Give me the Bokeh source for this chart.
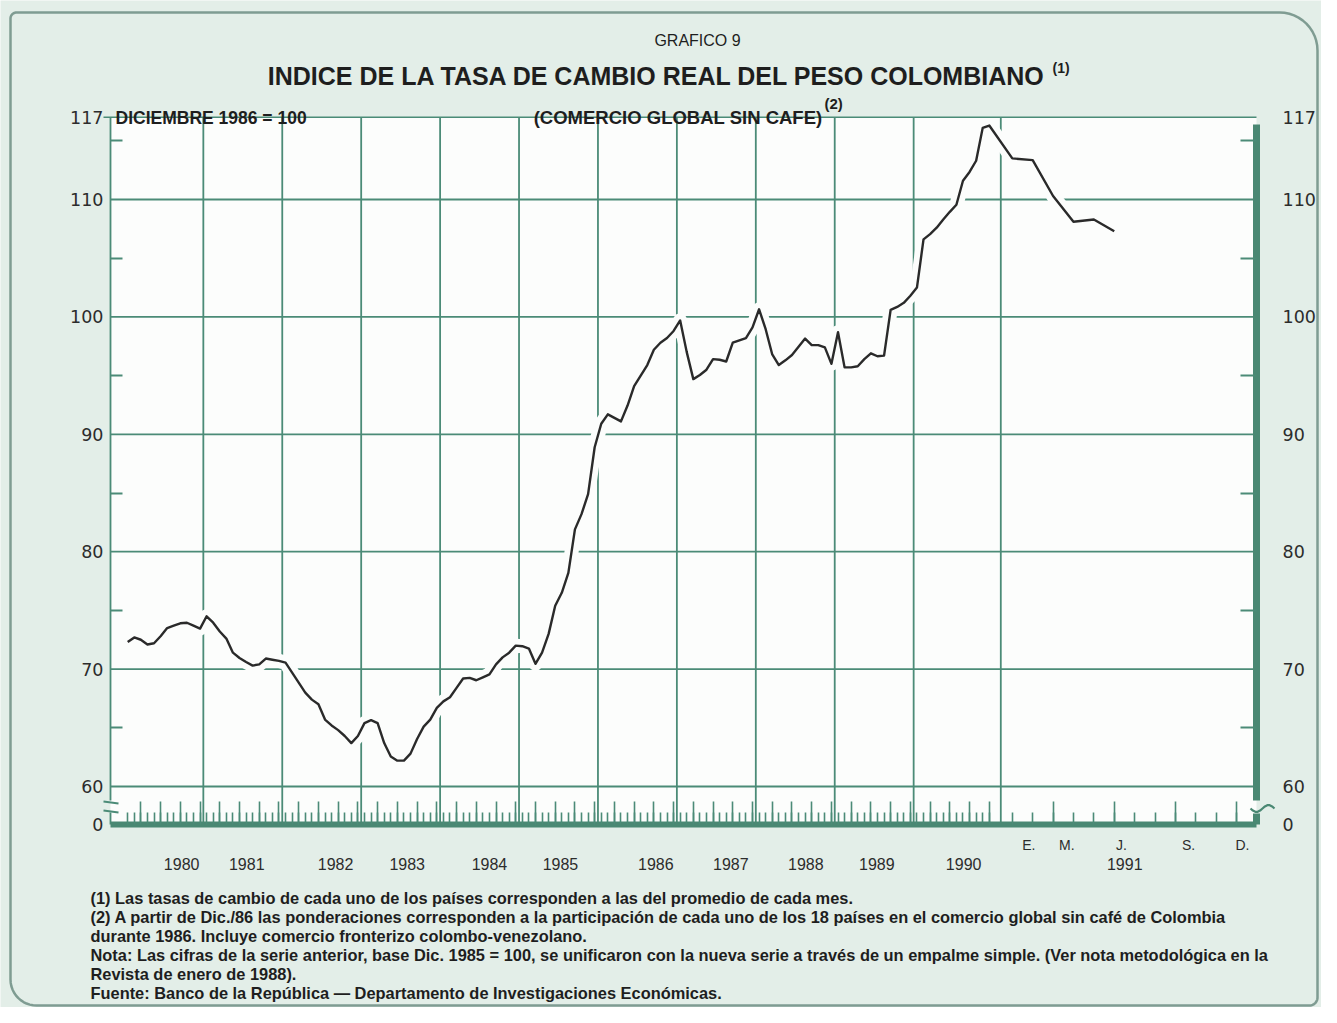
import math
from bokeh.plotting import figure
from bokeh.models import Range1d, LinearAxis, FixedTicker, CustomJSTickFormatter
from bokeh.core.properties import value
from bokeh.embed import file_html
from bokeh.resources import INLINE

# ---------------- data (monthly index, Dic. 1986 = 100) ----------------
idx_1980 = [72.3, 72.7, 72.5, 72.1, 72.2, 72.8, 73.5, 73.7, 73.9, 73.95, 73.7, 73.45]
idx_1981 = [74.5, 73.95, 73.2, 72.6, 71.4, 70.95, 70.6, 70.3, 70.4, 70.9, 70.8, 70.7]
idx_1982 = [70.55, 69.7, 68.85, 68.0, 67.4, 67.0, 65.7, 65.2, 64.8, 64.3, 63.7, 64.3]
idx_1983 = [65.4, 65.65, 65.4, 63.7, 62.55, 62.2, 62.2, 62.8, 64.05, 65.1, 65.7, 66.7]
idx_1984 = [67.25, 67.6, 68.4, 69.2, 69.25, 69.05, 69.3, 69.55, 70.4, 71.0, 71.4, 72.0]
idx_1985 = [71.95, 71.75, 70.45, 71.4, 73.0, 75.4, 76.5, 78.2, 81.9, 83.2, 84.9, 88.9]
idx_1986 = [90.9, 91.7, 91.4, 91.1, 92.45, 94.1, 95.0, 95.9, 97.2, 97.8, 98.2, 98.8]
idx_1987 = [99.7, 97.0, 94.7, 95.05, 95.5, 96.4, 96.35, 96.2, 97.8, 98.0, 98.2, 99.1]
idx_1988 = [100.65, 98.95, 96.8, 95.9, 96.3, 96.75, 97.45, 98.15, 97.6, 97.6, 97.4, 96.0]
idx_1989 = [98.7, 95.7, 95.7, 95.8, 96.4, 96.9, 96.65, 96.7, 100.6, 100.85, 101.2, 101.8]
idx_1990 = [102.5, 106.6, 107.05, 107.6, 108.3, 108.95, 109.55, 111.6, 112.35, 113.3, 116.1, 116.3]
idx_1991 = [113.5, 113.35, 110.3, 108.1, 108.3, 107.3]          # enero - junio 1991

series = [(1980, idx_1980), (1981, idx_1981), (1982, idx_1982), (1983, idx_1983),
          (1984, idx_1984), (1985, idx_1985), (1986, idx_1986), (1987, idx_1987),
          (1988, idx_1988), (1989, idx_1989), (1990, idx_1990), (1991, idx_1991)]

y_tick_values = [60, 70, 80, 90, 100, 110, 117]
y_minor_values = [65, 75, 85, 95, 105, 115]
year_labels = ["1980", "1981", "1982", "1983", "1984", "1985", "1986",
               "1987", "1988", "1989", "1990", "1991"]
month_labels_1991 = ["E.", "M.", "J.", "S.", "D."]

title_top = "GRAFICO 9"
title_main = "INDICE DE LA TASA DE CAMBIO REAL DEL PESO COLOMBIANO"
subtitle = "(COMERCIO GLOBAL SIN CAFE)"
base_note = "DICIEMBRE 1986 = 100"
footnotes = [
    "(1) Las tasas de cambio de cada uno de los países corresponden a las del promedio de cada mes.",
    "(2) A partir de Dic./86 las ponderaciones corresponden a la participación de cada uno de los 18 países en el comercio global sin café de Colombia",
    "durante 1986. Incluye comercio fronterizo colombo-venezolano.",
    "Nota: Las cifras de la serie anterior, base Dic. 1985 = 100, se unificaron con la nueva serie a través de un empalme simple. (Ver nota metodológica en la",
    "Revista de enero de 1988).",
    "Fuente: Banco de la República — Departamento de Investigaciones Económicas.",
]

# ---------------- scale of the time axis (1991 drawn with wider months) ----------------
def month_pos(year, month):
    if year <= 1990:
        return (year - 1980) * 12 + (month - 1)
    return 134.5 + 3.1 * (month - 1)

xs, ys = [], []
for yr, vals in series:
    for m, v in enumerate(vals, start=1):
        xs.append(month_pos(yr, m))
        ys.append(v)

all_months = [month_pos(y, m) for y in range(1980, 1992) for m in range(1, 13)]
quarter_months = [month_pos(y, m) for y in range(1980, 1992) for m in (3, 6, 9, 12)]
year_bounds = [month_pos(y, 12) + 0.5 for y in range(1980, 1990)]
year_bounds.append((month_pos(1990, 12) + month_pos(1991, 1)) / 2)

# ---------------- layout helpers (canvas pixel -> data) ----------------
W, H = 1321, 1007
PX0, PXS = 127.2, 6.577
PY60, PYS = 786.0, 11.74


def X(px):
    return (px - PX0) / PXS


def Y(py):
    return 60 + (PY60 - py) / PYS


L, R = X(110), X(1256)
TOP, BASE = 117, Y(824)
year_label_pos = [8.2, 18.1, 31.6, 42.5, 55.0, 65.8, 80.3, 91.7, 103.1, 113.9, 127.1, 151.6]
month_label_pos = [137.0, 142.8, 151.1, 161.3, 169.5]

GREEN = "#4b8b77"
GREEN_D = "#4a8873"
MINT = "#e3eee8"
INK = "#1e1e1e"
AXTXT = "#2c2c2c"
SANS = "Liberation Sans"

p = figure(width=W, height=H, x_range=Range1d(X(0), X(W)), y_range=Range1d(Y(H), Y(0)),
           x_axis_type=None, y_axis_type=None, toolbar_location=None, output_backend="svg",
           min_border=0, outline_line_color=None,
           background_fill_color=MINT, border_fill_color=MINT)

# rounded page border
def rounded(x0, y0, x1, y1, rtl, rtr, rbr, rbl, n=12):
    pts = []

    def arc(cx, cy, r, a0, a1):
        for k in range(n + 1):
            a = math.radians(a0 + (a1 - a0) * k / n)
            pts.append((cx + r * math.cos(a), cy + r * math.sin(a)))
    arc(x0 + rtl, y0 + rtl, rtl, 180, 270)
    arc(x1 - rtr, y0 + rtr, rtr, 270, 360)
    arc(x1 - rbr, y1 - rbr, rbr, 0, 90)
    arc(x0 + rbl, y1 - rbl, rbl, 90, 180)
    pts.append(pts[0])
    return [X(a) for a, b in pts], [Y(b) for a, b in pts]

bx, by = rounded(10, 12, 1317, 1005, 6, 38, 8, 26)
p.line(bx, by, line_color="#7f9c92", line_width=2.5)

# white plotting area
p.quad(left=[L], right=[R], bottom=[BASE], top=[TOP], fill_color="#fcfdfc", line_color=None)

# grid
hg = [60, 70, 80, 90, 100, 110]
p.segment(x0=[L] * len(hg), y0=hg, x1=[R] * len(hg), y1=hg, line_color=GREEN, line_width=1.8)
p.segment(x0=year_bounds, y0=[BASE] * len(year_bounds), x1=year_bounds, y1=[TOP] * len(year_bounds),
          line_color=GREEN, line_width=1.8)

# white halo under the series (the drafted grid is broken where the curve passes)
p.line(xs, ys, line_color="#fcfdfc", line_width=14, line_join="round")

# frame
p.segment(x0=[X(103)], y0=[TOP], x1=[R], y1=[TOP], line_color=GREEN, line_width=1.6)
p.segment(x0=[L, L], y0=[TOP, Y(812)], x1=[L, L], y1=[Y(800), BASE], line_color=GREEN, line_width=1.8)
p.segment(x0=[X(103), X(103)], y0=[Y(801), Y(810)], x1=[X(118), X(118)], y1=[Y(803), Y(812)],
          line_color=GREEN, line_width=1.8)
p.segment(x0=[R, R], y0=[Y(124), Y(813)], x1=[R, R], y1=[Y(800), BASE], line_color=GREEN_D, line_width=7)
wx = [X(1250 + k * 2.4) for k in range(11)]
wy = [Y(808 + 3.5 * math.sin(k * math.pi / 5)) for k in range(11)]
p.line(wx, wy, line_color=GREEN_D, line_width=2.2)

# the series
p.line(xs, ys, line_color="#2a2a2a", line_width=2.4, line_join="round")

# ---------------- axes ----------------
ytk = [BASE] + y_tick_values
ylab = {BASE: "0"}
for t in y_tick_values:
    ylab[t] = str(t)

for side, loc, tin, stand in (("left", L, 12, 7), ("right", R, 16, 26)):
    ax = LinearAxis(fixed_location=loc,
                    ticker=FixedTicker(ticks=ytk, minor_ticks=y_minor_values),
                    major_label_overrides=ylab, axis_line_color=None,
                    major_tick_in=0, major_tick_out=0,
                    minor_tick_in=tin, minor_tick_out=0,
                    minor_tick_line_color=GREEN, minor_tick_line_width=1.8,
                    major_label_standoff=stand,
                    major_label_text_font="DejaVu Sans", major_label_text_font_size="17.5px",
                    major_label_text_color=AXTXT)
    p.add_layout(ax, side)

tick_axis = LinearAxis(fixed_location=BASE, bounds=(L, R),
                       ticker=FixedTicker(ticks=quarter_months, minor_ticks=all_months),
                       formatter=CustomJSTickFormatter(code="return ''"),
                       axis_line_color=GREEN_D, axis_line_width=6,
                       major_tick_in=23, major_tick_out=0, major_tick_line_color=GREEN,
                       major_tick_line_width=1.6,
                       minor_tick_in=12, minor_tick_out=0, minor_tick_line_color=GREEN,
                       minor_tick_line_width=1.6)
p.add_layout(tick_axis, "below")

month_axis = LinearAxis(fixed_location=BASE, ticker=FixedTicker(ticks=month_label_pos),
                        major_label_overrides=dict(zip(month_label_pos, month_labels_1991)),
                        axis_line_color=None, major_tick_in=0, major_tick_out=0,
                        major_label_standoff=12, major_label_text_font=SANS,
                        major_label_text_font_size="14px", major_label_text_color=AXTXT)
p.add_layout(month_axis, "below")

year_axis = LinearAxis(fixed_location=BASE, ticker=FixedTicker(ticks=year_label_pos),
                       major_label_overrides=dict(zip(year_label_pos, year_labels)),
                       axis_line_color=None, major_tick_in=0, major_tick_out=0,
                       major_label_standoff=33, major_label_text_font=SANS,
                       major_label_text_font_size="16px", major_label_text_color=AXTXT)
p.add_layout(year_axis, "below")

# ---------------- texts ----------------
def put(text, px, py, size, bold=False, align="left", baseline="middle", color=INK):
    p.text(x=[X(px)], y=[Y(py)], text=[text], text_font=value(SANS),
           text_font_size=f"{size}px", text_font_style="bold" if bold else "normal",
           text_align=align, text_baseline=baseline, text_color=color)

put(title_top, 697, 40, 16, align="center")
put(title_main, 1046, 75, 25, bold=True, align="right")
put("(1)", 1052, 67, 14, bold=True)
put(subtitle, 822, 117, 18.5, bold=True, align="right", baseline="alphabetic")
put("(2)", 824, 103, 15, bold=True)
put(base_note, 115, 117, 17.5, bold=True, baseline="alphabetic")

for k, (txt, py) in enumerate(zip(footnotes, [897, 916, 935, 954, 973, 992])):
    put(txt, 90, py, 16.4, bold=True)

open("out.html", "w").write(file_html(p, INLINE))
